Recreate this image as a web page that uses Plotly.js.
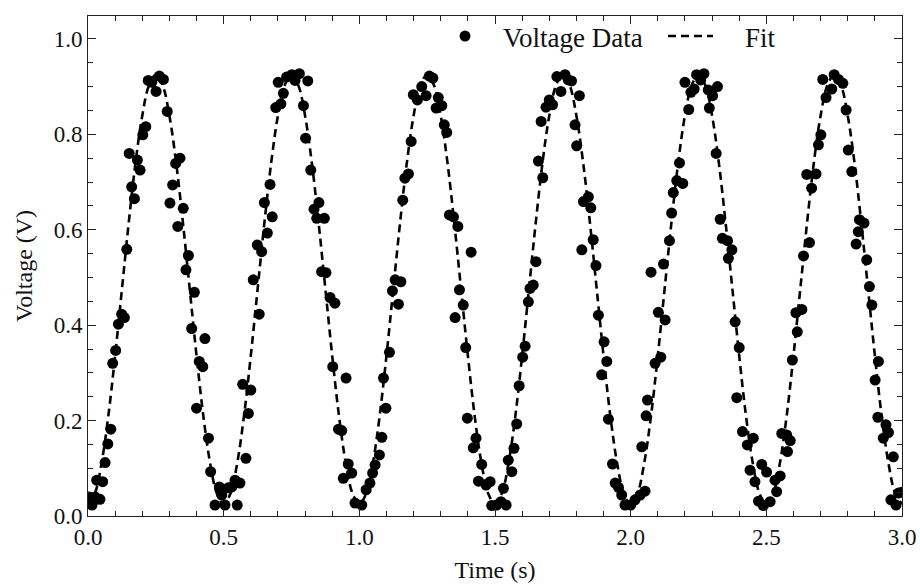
<!DOCTYPE html>
<html>
<head>
<meta charset="utf-8">
<script src="https://cdn.plot.ly/plotly-3.0.1.min.js"></script>
<style>html,body{margin:0;padding:0;background:#fff;}#chart{width:920px;height:585px;}</style>
</head>
<body>
<div id="chart"></div>
<script>
// Measured data points (time in s, voltage in V)
const timeData = [
0.005,0.015,0.026,0.032,0.044,0.054,0.063,0.073,0.084,0.091,0.102,0.112,0.124,0.134,0.143,0.152,0.161,0.171,0.182,0.192,
0.202,0.213,0.222,0.235,0.251,0.263,0.278,0.292,0.302,0.312,0.323,0.331,0.339,0.351,0.361,0.37,0.382,0.392,0.4,0.41,
0.423,0.431,0.444,0.452,0.468,0.484,0.493,0.505,0.517,0.53,0.542,0.55,0.56,0.57,0.582,0.591,0.6,0.609,0.624,0.631,
0.64,0.65,0.661,0.671,0.679,0.692,0.701,0.711,0.72,0.732,0.751,0.763,0.779,0.794,0.802,0.81,0.821,0.833,0.843,0.851,
0.861,0.871,0.877,0.892,0.902,0.91,0.923,0.935,0.941,0.951,0.959,0.972,0.984,1.009,1.025,1.039,1.049,1.058,1.074,1.083,
1.089,1.098,1.111,1.122,1.132,1.144,1.153,1.16,1.168,1.181,1.191,1.199,1.214,1.23,1.246,1.258,1.271,1.283,1.291,1.304,
1.313,1.322,1.332,1.347,1.353,1.363,1.369,1.383,1.392,1.398,1.412,1.42,1.43,1.439,1.451,1.467,1.482,1.488,1.506,1.522,
1.531,1.541,1.549,1.562,1.57,1.58,1.589,1.602,1.611,1.623,1.629,1.641,1.651,1.66,1.67,1.676,1.688,1.7,1.712,1.728,
1.743,1.758,1.77,1.782,1.795,1.801,1.811,1.82,1.826,1.844,1.853,1.862,1.872,1.881,1.893,1.902,1.912,1.918,1.933,1.943,
1.955,1.967,1.979,2.0,2.016,2.035,2.041,2.053,2.057,2.062,2.075,2.09,2.102,2.111,2.121,2.127,2.143,2.151,2.157,2.17,
2.18,2.192,2.2,2.214,2.222,2.234,2.243,2.258,2.27,2.286,2.29,2.302,2.315,2.32,2.33,2.338,2.357,2.36,2.373,2.385,
2.391,2.4,2.412,2.43,2.44,2.452,2.458,2.471,2.483,2.489,2.501,2.514,2.532,2.538,2.551,2.557,2.575,2.578,2.588,2.596,
2.609,2.614,2.631,2.637,2.649,2.659,2.667,2.683,2.692,2.701,2.708,2.72,2.741,2.75,2.766,2.782,2.794,2.802,2.815,2.831,
2.839,2.843,2.86,2.87,2.88,2.889,2.901,2.911,2.913,2.931,2.941,2.95,2.959,2.968,2.978,2.987,3.0
];
const voltageData = [
0.04,0.023,0.04,0.075,0.035,0.072,0.112,0.151,0.182,0.32,0.347,0.402,0.423,0.416,0.559,0.76,0.69,0.665,0.746,0.725,
0.799,0.816,0.913,0.909,0.89,0.922,0.915,0.848,0.656,0.694,0.739,0.607,0.75,0.645,0.516,0.546,0.393,0.469,0.226,0.324,
0.313,0.372,0.163,0.093,0.023,0.061,0.044,0.023,0.059,0.061,0.075,0.023,0.069,0.276,0.121,0.215,0.264,0.495,0.568,0.423,
0.554,0.657,0.593,0.695,0.627,0.856,0.909,0.864,0.886,0.92,0.925,0.913,0.927,0.86,0.792,0.912,0.725,0.643,0.624,0.657,
0.512,0.624,0.51,0.458,0.313,0.446,0.182,0.179,0.079,0.289,0.109,0.09,0.027,0.023,0.055,0.069,0.09,0.107,0.128,0.165,
0.289,0.226,0.343,0.472,0.495,0.444,0.491,0.662,0.708,0.717,0.785,0.883,0.872,0.9,0.881,0.922,0.918,0.855,0.877,0.86,
0.82,0.804,0.631,0.627,0.416,0.607,0.474,0.442,0.353,0.205,0.553,0.143,0.163,0.073,0.108,0.065,0.072,0.022,0.023,0.03,
0.058,0.023,0.117,0.093,0.142,0.193,0.273,0.333,0.356,0.449,0.477,0.484,0.533,0.744,0.827,0.709,0.857,0.872,0.862,0.921,
0.89,0.925,0.914,0.912,0.82,0.776,0.881,0.558,0.659,0.669,0.646,0.579,0.525,0.421,0.296,0.365,0.324,0.203,0.109,0.069,
0.06,0.044,0.023,0.023,0.034,0.044,0.145,0.052,0.21,0.243,0.511,0.32,0.427,0.333,0.528,0.411,0.577,0.635,0.678,0.703,
0.74,0.697,0.909,0.852,0.888,0.895,0.925,0.914,0.927,0.893,0.855,0.881,0.76,0.9,0.622,0.582,0.577,0.54,0.558,0.407,
0.248,0.353,0.177,0.149,0.096,0.163,0.072,0.031,0.108,0.022,0.092,0.03,0.075,0.051,0.084,0.173,0.17,0.135,0.158,0.327,
0.426,0.386,0.433,0.545,0.716,0.573,0.687,0.717,0.778,0.799,0.915,0.877,0.895,0.925,0.915,0.907,0.851,0.767,0.722,0.57,
0.596,0.621,0.614,0.537,0.481,0.442,0.285,0.207,0.324,0.163,0.191,0.175,0.034,0.124,0.023,0.048,0.05
];
// Fit curve sampled every 0.025 s
const timeFit = [
0,0.025,0.05,0.075,0.1,0.125,0.15,0.175,0.2,0.225,0.25,0.275,0.3,0.325,0.35,0.375,0.4,0.425,0.45,0.475,
0.5,0.525,0.55,0.575,0.6,0.625,0.65,0.675,0.7,0.725,0.75,0.775,0.8,0.825,0.85,0.875,0.9,0.925,0.95,0.975,
1.0,1.025,1.05,1.075,1.1,1.125,1.15,1.175,1.2,1.225,1.25,1.275,1.3,1.325,1.35,1.375,1.4,1.425,1.45,1.475,
1.5,1.525,1.55,1.575,1.6,1.625,1.65,1.675,1.7,1.725,1.75,1.775,1.8,1.825,1.85,1.875,1.9,1.925,1.95,1.975,
2.0,2.025,2.05,2.075,2.1,2.125,2.15,2.175,2.2,2.225,2.25,2.275,2.3,2.325,2.35,2.375,2.4,2.425,2.45,2.475,
2.5,2.525,2.55,2.575,2.6,2.625,2.65,2.675,2.7,2.725,2.75,2.775,2.8,2.825,2.85,2.875,2.9,2.925,2.95,2.975,3.0
];
const voltageFit = [
0.025,0.047,0.111,0.210,0.336,0.475,0.614,0.740,0.839,0.903,0.925,0.903,0.839,0.740,0.614,0.475,0.336,0.210,0.111,0.047,
0.025,0.047,0.111,0.210,0.336,0.475,0.614,0.740,0.839,0.903,0.925,0.903,0.839,0.740,0.614,0.475,0.336,0.210,0.111,0.047,
0.025,0.047,0.111,0.210,0.336,0.475,0.614,0.740,0.839,0.903,0.925,0.903,0.839,0.740,0.614,0.475,0.336,0.210,0.111,0.047,
0.025,0.047,0.111,0.210,0.336,0.475,0.614,0.740,0.839,0.903,0.925,0.903,0.839,0.740,0.614,0.475,0.336,0.210,0.111,0.047,
0.025,0.047,0.111,0.210,0.336,0.475,0.614,0.740,0.839,0.903,0.925,0.903,0.839,0.740,0.614,0.475,0.336,0.210,0.111,0.047,
0.025,0.047,0.111,0.210,0.336,0.475,0.614,0.740,0.839,0.903,0.925,0.903,0.839,0.740,0.614,0.475,0.336,0.210,0.111,0.047,
0.025
];
const xTicks = [0, 0.5, 1.0, 1.5, 2.0, 2.5, 3.0];
const yTicks = [0, 0.2, 0.4, 0.6, 0.8, 1.0];
const seriesNames = ["Voltage Data", "\u2003Fit"];

const FONT = "Liberation Serif";

const traces = [
  {
    x: timeData, y: voltageData, type: "scatter", mode: "markers", name: seriesNames[0],
    marker: {color: "#000", size: 11, line: {width: 0}}, legend: "legend"
  },
  {
    x: timeFit, y: voltageFit, type: "scatter", mode: "lines", name: seriesNames[1],
    line: {color: "#000", width: 2.6, dash: "8px,5px", shape: "spline", smoothing: 1}, legend: "legend2"
  }
];

const axisCommon = {
  showgrid: false, zeroline: false, showline: true, linecolor: "#222", linewidth: 1,
  mirror: "allticks", ticks: "inside", ticklen: 8, tickwidth: 1, tickcolor: "#222",
  tickfont: {family: FONT, size: 23, color: "#111"}, tickformat: ".1f"
};

const legendCommon = {
  orientation: "h", y: 1.008, xanchor: "left", yanchor: "top",
  font: {family: FONT, size: 27, color: "#111"}, bgcolor: "rgba(0,0,0,0)", borderwidth: 0
};

const layout = {
  width: 920, height: 585,
  margin: {l: 88, r: 18, t: 16, b: 69},
  paper_bgcolor: "#fff", plot_bgcolor: "#fff",
  font: {family: FONT, color: "#111"},
  showlegend: true,
  legend: Object.assign({}, legendCommon, {x: 0.4165, itemwidth: 66}),
  legend2: Object.assign({}, legendCommon, {x: 0.7064, itemwidth: 45}),
  xaxis: Object.assign({}, axisCommon, {
    range: [0, 3], tickvals: xTicks,
    minor: {dtick: 0.1, tick0: 0, ticks: "inside", ticklen: 5, tickcolor: "#222", showgrid: false},
    title: {text: "Time (s)", font: {family: FONT, size: 24, color: "#111"}, standoff: 12}
  }),
  yaxis: Object.assign({}, axisCommon, {
    range: [0, 1.048], tickvals: yTicks,
    minor: {dtick: 0.05, tick0: 0, ticks: "inside", ticklen: 5, tickcolor: "#222", showgrid: false},
    title: {text: "Voltage (V)", font: {family: FONT, size: 24, color: "#111"}, standoff: 14}
  })
};

Plotly.newPlot("chart", traces, layout, {displayModeBar: false, staticPlot: true});
</script>
</body>
</html>
